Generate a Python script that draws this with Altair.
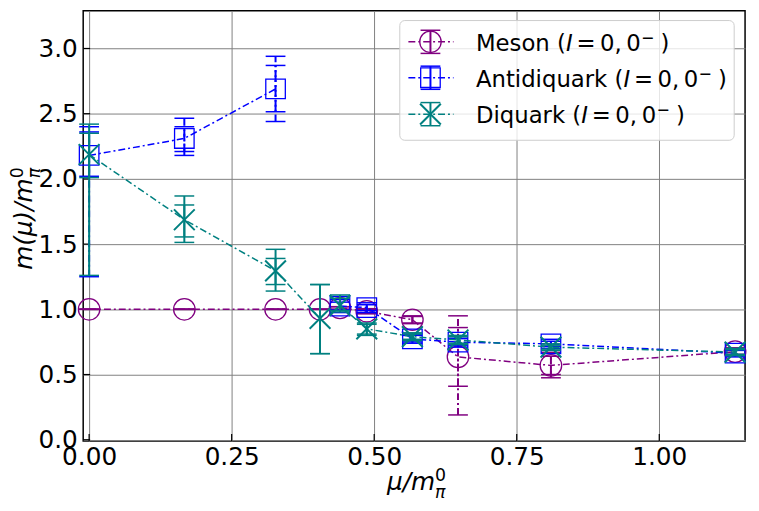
import altair as alt
import pandas as pd

# ---------------- data ----------------
meson_mu = [0.0, 0.167, 0.327, 0.405, 0.44, 0.487, 0.567, 0.647, 0.81, 1.133]
meson_m = [1.0, 1.0, 1.0, 1.0, 1.01, 0.985, 0.92, 0.635, 0.57, 0.675]
meson_lo1 = [1.0, 1.0, 1.0, 1.0, 1.0, 0.97, 0.895, 0.41, 0.50, 0.655]
meson_hi1 = [1.0, 1.0, 1.0, 1.0, 1.02, 1.0, 0.945, 0.86, 0.64, 0.695]
meson_lo2 = [1.0, 1.0, 1.0, 1.0, 1.0, 0.965, 0.89, 0.19, 0.475, 0.645]
meson_hi2 = [1.0, 1.0, 1.0, 1.0, 1.02, 1.005, 0.95, 0.95, 0.67, 0.705]
meson_grp = [1, 1, 1, 1, 2, 2, 2, 2, 2, 2]

anti_mu = [0.0, 0.167, 0.327, 0.44, 0.487, 0.567, 0.647, 0.81, 1.133]
anti_m = [2.18, 2.31, 2.69, 1.025, 1.013, 0.773, 0.748, 0.735, 0.664]
anti_lo1 = [2.02, 2.21, 2.515, 0.995, 0.99, 0.75, 0.725, 0.715, 0.645]
anti_hi1 = [2.36, 2.40, 2.87, 1.055, 1.035, 0.80, 0.775, 0.755, 0.685]
anti_lo2 = [1.25, 2.18, 2.44, 0.975, 0.975, 0.74, 0.71, 0.70, 0.635]
anti_hi2 = [2.40, 2.465, 2.94, 1.075, 1.05, 0.81, 0.79, 0.77, 0.695]
anti_grp = [1, 1, 1, 2, 2, 2, 2, 2, 2]

di_mu = [0.0, 0.167, 0.327, 0.405, 0.44, 0.487, 0.567, 0.647, 0.81, 1.133]
di_m = [2.187, 1.687, 1.295, 0.93, 1.03, 0.85, 0.79, 0.765, 0.71, 0.672]
di_lo1 = [2.01, 1.555, 1.19, 0.66, 0.99, 0.81, 0.77, 0.74, 0.695, 0.655]
di_hi1 = [2.35, 1.80, 1.39, 1.19, 1.085, 0.885, 0.81, 0.79, 0.725, 0.69]
di_lo2 = [1.26, 1.513, 1.14, 0.66, 0.98, 0.80, 0.76, 0.73, 0.685, 0.645]
di_hi2 = [2.42, 1.869, 1.46, 1.19, 1.11, 0.895, 0.82, 0.80, 0.735, 0.70]
di_grp = [1, 1, 1, 1, 2, 2, 2, 2, 2, 2]

x_ticks = [0.0, 0.25, 0.5, 0.75, 1.0]
y_ticks = [0.0, 0.5, 1.0, 1.5, 2.0, 2.5, 3.0]
legend_names = ["Meson", "Antidiquark", "Diquark"]

# ---------------- styling / layout ----------------
W, H = 669, 435
X_DOM = [-0.0104, 1.1505]
Y_DOM = [-0.01, 3.29]
FONT = "DejaVu Sans"
TICK_FS = 25
LEG_FS = 23
TITLE_FS = 25
SUP_FS = 17.5
DASHDOT = [7, 3, 2, 3]

PURPLE, BLUE, TEAL = "#800080", "#0000ff", "#008080"
XSHAPE = "M-1,-1L1,1M-1,1L1,-1"
CAPSHAPE = "M-1,0L1,0"
CIRC_S, SQ_S, X_S = 470, 390, 440

xs = alt.Scale(domain=X_DOM, nice=False, zero=False)
ys = alt.Scale(domain=Y_DOM, nice=False, zero=False)
AX_X = alt.Axis(values=x_ticks, format=".2f", title=None, labelFlush=False,
                labelOverlap=False, labelPadding=4)
AX_Y = alt.Axis(values=y_ticks, format=".1f", title=None, labelFlush=False,
                labelOverlap=False, labelPadding=6)


def X(field="mu"):
    return alt.X(f"{field}:Q", scale=xs, axis=AX_X)


def Y(field="m"):
    return alt.Y(f"{field}:Q", scale=ys, axis=AX_Y)


def series_layers(mu, m, lo1, hi1, lo2, hi2, grp, color, shape, msize, mstroke, bar_dash):
    df = pd.DataFrame({"mu": mu, "m": m, "lo1": lo1, "hi1": hi1, "lo2": lo2, "hi2": hi2,
                       "grp": grp})
    base = alt.Chart(df)
    layers = []
    bar_kw = dict(color=color, strokeWidth=2)
    if bar_dash:
        bar_kw["strokeDash"] = bar_dash
    layers.append(base.mark_rule(**bar_kw).encode(x=X(), y=Y("lo2"), y2="hi2:Q"))
    layers.append(base.mark_rule(**bar_kw).encode(x=X(), y=Y("lo1"), y2="hi1:Q"))
    for col in ["lo1", "hi1", "lo2", "hi2"]:
        layers.append(
            base.mark_point(shape=CAPSHAPE, size=400, color=color, filled=False,
                            strokeWidth=1.5, opacity=1).encode(x=X(), y=Y(col))
        )
    layers.append(
        base.mark_line(color=color, strokeWidth=1.5, strokeDash=DASHDOT).encode(
            x=X(), y=Y(), detail="grp:N")
    )
    layers.append(
        base.mark_point(shape=shape, size=msize, color=color, filled=False,
                        strokeWidth=mstroke, opacity=1).encode(x=X(), y=Y())
    )
    return layers


layers = []

# inward tick marks (also carry the axes)
xt = pd.DataFrame({"mu": x_ticks})
yt = pd.DataFrame({"m": y_ticks})
layers.append(alt.Chart(xt).mark_rule(color="black", strokeWidth=1.2).encode(
    x=X(), y=alt.value(H), y2=alt.value(H - 7)))
layers.append(alt.Chart(yt).mark_rule(color="black", strokeWidth=1.2).encode(
    y=Y(), x=alt.value(0), x2=alt.value(7)))

layers += series_layers(meson_mu, meson_m, meson_lo1, meson_hi1, meson_lo2, meson_hi2, meson_grp,
                        PURPLE, "circle", CIRC_S, 1.3, DASHDOT)
layers += series_layers(anti_mu, anti_m, anti_lo1, anti_hi1, anti_lo2, anti_hi2, anti_grp,
                        BLUE, "square", SQ_S, 1.3, DASHDOT)
layers += series_layers(di_mu, di_m, di_lo1, di_hi1, di_lo2, di_hi2, di_grp,
                        TEAL, XSHAPE, X_S, 2.0, None)

# ---------------- legend (drawn by hand to mimic matplotlib) ----------------
one = pd.DataFrame({"k": [0]})
ADV = {" ": 651, "(": 799, "A": 1401, "D": 1577, "M": 1767, "a": 1255, "d": 1300,
       "e": 1260, "i": 569, "k": 1186, "n": 1298, "o": 1253, "q": 1300, "r": 842,
       "s": 1067, "t": 803, "u": 1298}


def text_w(s, size):
    return sum(ADV[c] for c in s) / 2048 * size


def txt(x, y, s, size, italic=False, align="left", baseline="alphabetic", angle=0):
    kw = dict(font=FONT, fontSize=size, color="black", align=align, baseline=baseline)
    if italic:
        kw["fontStyle"] = "italic"
    if angle:
        kw["angle"] = angle
    return alt.Chart(one).mark_text(**kw).encode(
        x=alt.value(x), y=alt.value(y), text=alt.value(s))


LB = dict(x0=320, x1=658, y0=10, y1=131)
layers.append(alt.Chart(one).mark_rect(fill="white", fillOpacity=0.8, stroke="#cccccc",
                                       strokeWidth=1, cornerRadius=5).encode(
    x=alt.value(LB["x0"]), x2=alt.value(LB["x1"]), y=alt.value(LB["y0"]), y2=alt.value(LB["y1"])))

leg_styles = [(PURPLE, "circle", CIRC_S, 1.3), (BLUE, "square", SQ_S, 1.3), (TEAL, XSHAPE, X_S, 2.0)]
row_c = [31.5, 67.8, 104.6]
mx = 351
text_x = 397
suffix = [("I", 0.0, True, LEG_FS, 0), ("=", 10.7, False, LEG_FS, 0), ("0,", 34.4, False, LEG_FS, 0),
          ("0", 61.1, False, LEG_FS, 0), ("\u2212", 76.0, False, 16, -8), (")", 95.7, False, LEG_FS, 0)]
for i, name in enumerate(legend_names):
    color, shape, size, sw = leg_styles[i]
    yc = row_c[i]
    layers.append(alt.Chart(one).mark_rule(color=color, strokeWidth=1.5, strokeDash=DASHDOT).encode(
        x=alt.value(328.7), x2=alt.value(374.3), y=alt.value(yc)))
    layers.append(alt.Chart(one).mark_rule(color=color, strokeWidth=2).encode(
        x=alt.value(mx), y=alt.value(yc - 11.7), y2=alt.value(yc + 11.7)))
    for dy in (-11.7, 11.7):
        layers.append(alt.Chart(one).mark_point(shape=CAPSHAPE, size=400, color=color, filled=False,
                                                strokeWidth=1.5, opacity=1).encode(
            x=alt.value(mx), y=alt.value(yc + dy)))
    layers.append(alt.Chart(one).mark_point(shape=shape, size=size, color=color, filled=False,
                                            strokeWidth=sw, opacity=1).encode(
        x=alt.value(mx), y=alt.value(yc)))
    prefix = name + " ("
    base_y = yc + 9
    layers.append(txt(text_x, base_y, prefix, LEG_FS))
    pend = text_x + text_w(prefix, LEG_FS)
    for s, off, it, fs, rise in suffix:
        layers.append(txt(pend + off, base_y + rise, s, fs, italic=it))

# ---------------- axis titles (mathtext-like) ----------------
xt_x, xt_base = 307, 484.5
layers.append(txt(xt_x, xt_base, "\u03bc/m", TITLE_FS, italic=True))
sx = xt_x + 48.6
layers.append(txt(sx, xt_base - 8.7, "0", SUP_FS))
layers.append(txt(sx, xt_base + 8.3, "\u03c0", SUP_FS, italic=True))

yb = -52
ystart = 262
L = 92.5
layers.append(txt(yb, ystart, "m(\u03bc)/m", TITLE_FS, italic=True, angle=270))
layers.append(txt(yb - 8.7, ystart - L, "0", SUP_FS, angle=270))
layers.append(txt(yb + 8.3, ystart - L, "\u03c0", SUP_FS, italic=True, angle=270))

chart = alt.layer(*layers).properties(
    width=W, height=H,
    autosize=alt.AutoSizeParams(type="none"),
    padding={"left": 76, "top": 0, "right": 6, "bottom": 65},
).configure_view(
    stroke="black", strokeWidth=1.5
).configure_axis(
    grid=True, gridColor="#808080", gridWidth=1, domain=False, ticks=False,
    labelFont=FONT, labelFontSize=TICK_FS, labelColor="black",
)

chart.save("out.html", embed_options={"renderer": "svg", "actions": False})
